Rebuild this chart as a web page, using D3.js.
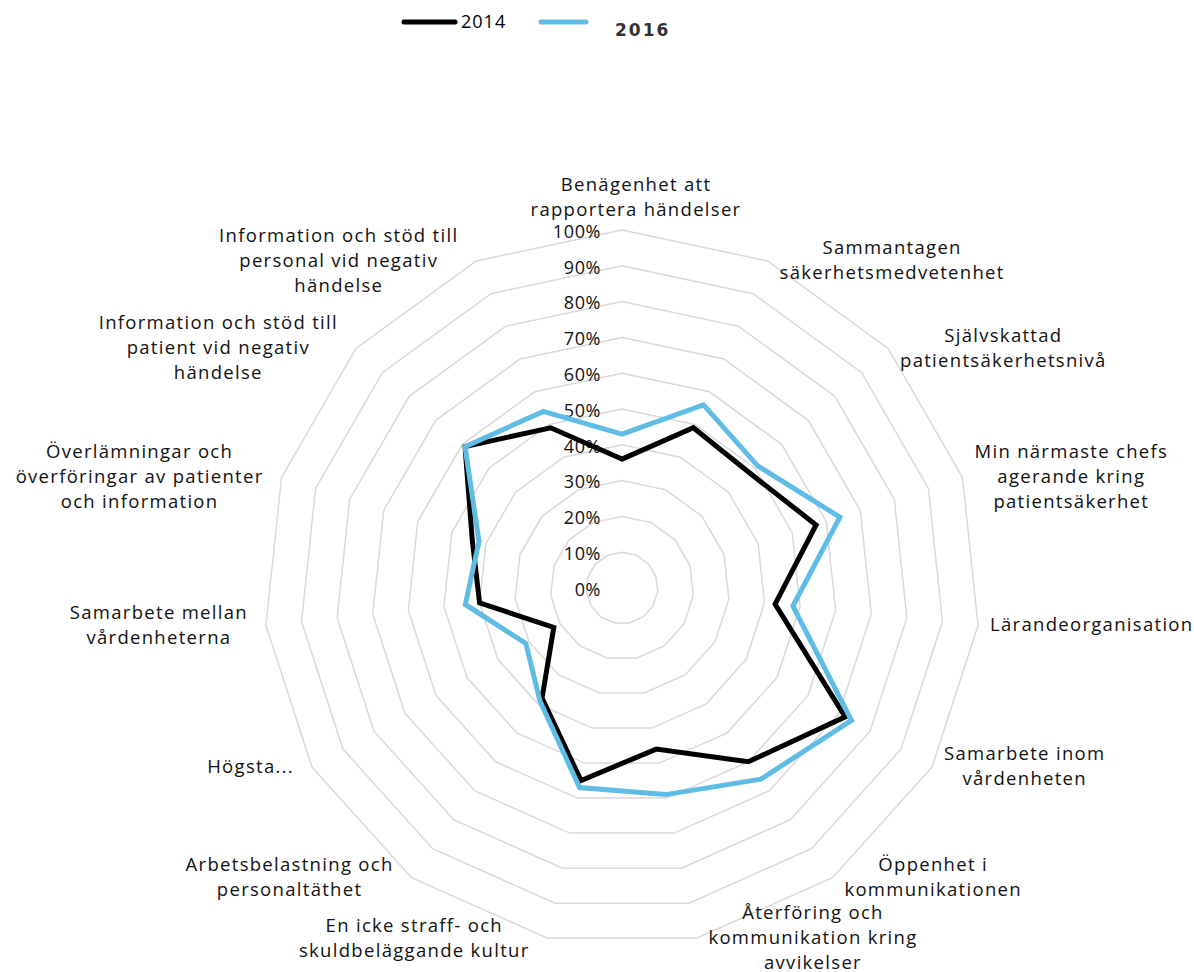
<!DOCTYPE html>
<html lang="sv">
<head>
<meta charset="UTF-8" />
<title>Patientsäkerhetskultur 2014 / 2016</title>
<script src="https://cdn.jsdelivr.net/npm/d3@7/dist/d3.min.js"></script>
<style>
  body { margin: 0; background: #fff; }
  svg { display: block; }
  .lbl { font-family: "Open Sans", sans-serif; font-size: 18.5px; letter-spacing: 1.3px; fill: #111; }
  .tick { font-family: "Open Sans", sans-serif; font-size: 18px; letter-spacing: 0.6px; fill: #111; }
</style>
</head>
<body>
<script>
// kategorier, medurs från toppen
var categories = [
  "Benägenhet att\nrapportera händelser",
  "Sammantagen\nsäkerhetsmedvetenhet",
  "Självskattad\npatientsäkerhetsnivå",
  "Min närmaste chefs\nagerande kring\npatientsäkerhet",
  "Lärandeorganisation",
  "Samarbete inom\nvårdenheten",
  "Öppenhet i\nkommunikationen",
  "Återföring och\nkommunikation kring\navvikelser",
  "En icke straff- och\nskuldbeläggande kultur",
  "Arbetsbelastning och\npersonaltäthet",
  "Högsta...",
  "Samarbete mellan\nvårdenheterna",
  "Överlämningar och\növerföringar av patienter\noch information",
  "Information och stöd till\npatient vid negativ\nhändelse",
  "Information och stöd till\npersonal vid negativ\nhändelse"
];
var values2014 = [0.36, 0.49, 0.48, 0.57, 0.43, 0.72, 0.60, 0.46, 0.55, 0.38, 0.22, 0.40, 0.44, 0.59, 0.49];
var values2016 = [0.43, 0.56, 0.51, 0.64, 0.48, 0.74, 0.66, 0.59, 0.57, 0.39, 0.31, 0.44, 0.42, 0.59, 0.54];
var seriesNames = ["2014", "2016"];
var ticks = [0, 0.1, 0.2, 0.3, 0.4, 0.5, 0.6, 0.7, 0.8, 0.9, 1.0];

var W = 1194, H = 972;
var cx = 622, cy = 588, R = 358;

var svg = d3.select("body").append("svg").attr("width", W).attr("height", H);
var g = svg.append("g").attr("transform", "translate(" + cx + "," + cy + ")");

var n = categories.length;
var r = d3.scaleLinear().domain([0, 1]).range([0, R]);
var angle = d3.scaleLinear().domain([0, n]).range([0, 2 * Math.PI]);

// rutnät (polygoner)
var ringLine = d3.lineRadial()
  .angle(function(d, i) { return angle(i); })
  .radius(function(d) { return r(d); })
  .curve(d3.curveLinearClosed);

g.selectAll(".ring")
  .data(ticks.slice(1))
  .enter().append("path")
  .attr("class", "ring")
  .attr("d", function(t) { return ringLine(d3.range(n).map(function() { return t; })); })
  .attr("fill", "none")
  .attr("stroke", "#d9d9d9")
  .attr("stroke-width", 1.5);

// skaltext
g.selectAll(".tick")
  .data(ticks)
  .enter().append("text")
  .attr("class", "tick")
  .attr("x", -21)
  .attr("y", function(t) { return -r(t) + 3; })
  .attr("text-anchor", "end")
  .attr("dominant-baseline", "middle")
  .text(function(t) { return d3.format(".0%")(t); });

// serier
var seriesLine = d3.lineRadial()
  .angle(function(d, i) { return angle(i); })
  .radius(function(d) { return r(d); })
  .curve(d3.curveLinearClosed);

var series = [
  { name: seriesNames[0], values: values2014, color: "#000000" },
  { name: seriesNames[1], values: values2016, color: "#5fbde5" }
];

g.selectAll(".serie")
  .data(series)
  .enter().append("path")
  .attr("class", "serie")
  .attr("d", function(s) { return seriesLine(s.values); })
  .attr("fill", "none")
  .attr("stroke", function(s) { return s.color; })
  .attr("stroke-width", 5)
  .attr("stroke-linejoin", "miter");

// kategorietiketter
var lh = 25;
categories.forEach(function(c, i) {
  var a = angle(i);
  var sx = Math.sin(a), sy = -Math.cos(a);
  var vx = r(1) * sx, vy = r(1) * sy;
  var lines = c.split("\n");
  var t = g.append("text").attr("class", "lbl").attr("text-anchor", "middle");
  var spans = lines.map(function(l) {
    return t.append("tspan").attr("x", 0).attr("dominant-baseline", "middle").text(l);
  });
  var w = t.node().getBBox().width;
  var x, yc;
  if (Math.abs(sx) < 0.05) {
    x = vx + 14;
    yc = vy - 19 - (lines.length - 1) / 2 * lh;
  } else if (sx > 0) {
    x = vx + 12 + w / 2;
    yc = vy + 1;
  } else {
    x = vx - 18 - w / 2;
    yc = vy + 1;
  }
  spans.forEach(function(s, k) {
    s.attr("x", x).attr("y", yc + (k - (lines.length - 1) / 2) * lh);
  });
});

// förklaring
var leg = svg.append("g");
leg.append("line")
  .attr("x1", 404).attr("x2", 455).attr("y1", 22).attr("y2", 22)
  .attr("stroke", series[0].color).attr("stroke-width", 5).attr("stroke-linecap", "round");
leg.append("text")
  .attr("x", 461).attr("y", 23)
  .attr("dominant-baseline", "middle")
  .style("font-family", "'Open Sans', sans-serif").style("font-size", "18px").style("letter-spacing", "1px")
  .text(series[0].name);
leg.append("line")
  .attr("x1", 541).attr("x2", 586).attr("y1", 22).attr("y2", 22)
  .attr("stroke", series[1].color).attr("stroke-width", 5).attr("stroke-linecap", "round");
leg.append("text")
  .attr("x", 615).attr("y", 31)
  .attr("dominant-baseline", "middle")
  .style("font-family", "'DejaVu Sans', sans-serif").style("font-size", "17px").style("font-weight", "bold")
  .style("letter-spacing", "2px").attr("fill", "#333")
  .text(series[1].name);
</script>
</body>
</html>
